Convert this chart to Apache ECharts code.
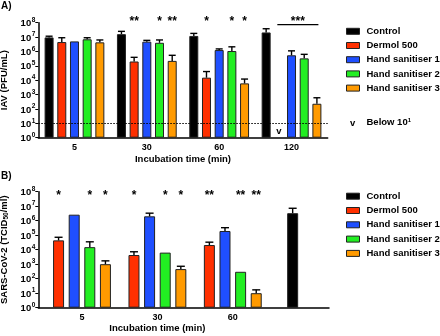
<!DOCTYPE html>
<html><head><meta charset="utf-8">
<script src="https://cdn.jsdelivr.net/npm/echarts@6/dist/echarts.min.js"></script>
<style>html,body{margin:0;padding:0;background:#fff}#c{width:440px;height:336px}</style>
</head><body><div id="c"></div>
<script>
// ---------- shared ----------
const seriesNames = ['Control', 'Dermol 500', 'Hand sanitiser 1', 'Hand sanitiser 2', 'Hand sanitiser 3'];
const seriesColors = ['#000000', '#ff3000', '#1f4fff', '#22ee22', '#ff9a00'];

// ---------- Panel A: IAV (PFU/mL) ----------
const categoriesA = ['5', '30', '60', '120'];
const controlA      = [9.5e6, 1.6e7, 1.2e7, 2.1e7];
const controlAUpper = [1.15e7, 2.5e7, 1.8e7, 3.8e7];
const dermolA       = [4.5e6, 2.0e5, 1.5e4, null];
const dermolAUpper  = [9.0e6, 3.9e5, 4.0e4, null];
const hs1A          = [5.0e6, 4.8e6, 1.25e6, 5.4e5];
const hs1AUpper     = [null, 5.9e6, 1.5e6, 1.1e6];
const hs2A          = [7.0e6, 4.0e6, 1.07e6, 3.3e5];
const hs2AUpper     = [9.0e6, 6.3e6, 2.1e6, 6.3e5];
const hs3A          = [4.3e6, 2.2e5, 6.0e3, 230];
const hs3AUpper     = [6.3e6, 5.4e5, 1.2e4, 600];
const sigControlA = ['', '', '', ''];
const sigDermolA  = ['', '**', '*', ''];
const sigHs1A     = ['', '', '', ''];
const sigHs2A     = ['', '*', '*', ''];
const sigHs3A     = ['', '**', '*', ''];
const bracketA = [3];          // category index of the bracketed group
const bracketTextA = '***';
const belowLimitA = [3];       // category where Dermol 500 is below 10^1
const detectionLimitA = 10;

// ---------- Panel B: SARS-CoV-2 (TCID50/ml) ----------
const categoriesB = ['5', '30', '60'];
const dermolB      = [4.4e4, 4.3e3, 2.1e4];
const dermolBUpper = [7.2e4, 7.2e3, 3.3e4];
const hs1B         = [2.6e6, 2.0e6, 1.95e5];
const hs1BUpper    = [null, 3.3e6, 3.3e5];
const hs2B         = [1.5e4, 6.3e3, 300];
const hs2BUpper    = [3.5e4, null, null];
const hs3B         = [1.0e3, 460, 10];
const hs3BUpper    = [1.7e3, 720, 17];
const controlB      = [3.3e6];
const controlBUpper = [7.2e6];
const sigDermolB = ['*', '*', '**'];
const sigHs1B    = ['', '', ''];
const sigHs2B    = ['*', '*', '**'];
const sigHs3B    = ['*', '*', '**'];

// ---------- styling ----------
const FONT = '"Liberation Sans", Arial, Helvetica, sans-serif';
const BORDER = '#222';
const barWA = 9, gapA = 0.41;
const barWB = 11, gapB = 0.42;
function offsets(n, w, g) {
  const slot = w * (1 + g);
  const out = [];
  for (let i = 0; i < n; i++) out.push((i - (n - 1) / 2) * slot);
  return out;
}
const offA = offsets(5, barWA, gapA);
const offB = offsets(4, barWB, gapB);

function supLabel(v) {
  const e = Math.round(Math.log10(v));
  return '{b|10}{s|' + e + '}';
}
const supRich = {
  b: { fontSize: 9.5, fontWeight: 'bold', color: '#000', fontFamily: FONT, lineHeight: 12, verticalAlign: 'bottom' },
  s: { fontSize: 6.5, fontWeight: 'bold', color: '#000', fontFamily: FONT, lineHeight: 12, verticalAlign: 'top', padding: [0, 0, 0, 0.5] }
};

function logAxis(gridIndex, show, name) {
  return {
    type: 'log', logBase: 10, gridIndex: gridIndex, min: 1, max: 1e8, interval: 1, show: show,
    name: name, nameLocation: 'middle', nameGap: 26,
    nameTextStyle: { fontSize: 9.5, fontWeight: 'bold', color: '#000', fontFamily: FONT,
      rich: { n: { fontSize: 9.5, fontWeight: 'bold', color: '#000', fontFamily: FONT },
              sub: { fontSize: 6.5, fontWeight: 'bold', color: '#000', fontFamily: FONT, verticalAlign: 'bottom', padding: [0, 0, 0, 0] } } },
    axisLine: { show: true, lineStyle: { color: '#000', width: 1.5 } },
    axisTick: { show: true, length: 3, lineStyle: { color: '#000', width: 1 } },
    minorTick: { show: false },
    splitLine: { show: false },
    axisLabel: { margin: 3, formatter: supLabel, rich: supRich }
  };
}
function catAxis(gridIndex, data, opts) {
  return Object.assign({
    type: 'category', gridIndex: gridIndex, data: data,
    axisLine: { show: true, lineStyle: { color: '#000', width: 1.5 } },
    axisTick: { show: false },
    axisLabel: { show: true, fontSize: 9, fontWeight: 'bold', color: '#000', fontFamily: FONT, margin: 5 },
    nameLocation: 'middle',
    nameTextStyle: { fontSize: 9.5, fontWeight: 'bold', color: '#000', fontFamily: FONT }
  }, opts);
}

function bar(name, color, data, xi, yi, w, g, extra) {
  return Object.assign({
    type: 'bar', name: name, data: data, xAxisIndex: xi, yAxisIndex: yi,
    barWidth: w, barGap: (g * 100) + '%',
    itemStyle: { color: color, borderColor: BORDER, borderWidth: 1 },
    emphasis: { disabled: true }, z: 2
  }, extra || {});
}

function errSeries(means, uppers, sigs, off, xi, yi, capW, sigDy) {
  return {
    type: 'custom', xAxisIndex: xi, yAxisIndex: yi, z: 5, silent: true,
    data: means.map((m, i) => [i, m == null ? NaN : m, uppers[i] == null ? NaN : uppers[i]]),
    renderItem: function (params, api) {
      const i = api.value(0);
      const cx = api.coord([i, 1])[0] + off;
      const m = api.value(1), u = api.value(2);
      const ch = [];
      if (isFinite(m) && isFinite(u)) {
        const y1 = api.coord([i, m])[1], y2 = api.coord([i, u])[1];
        ch.push({ type: 'line', shape: { x1: cx, y1: y1, x2: cx, y2: y2 }, style: { stroke: '#000', lineWidth: 1.4 } });
        ch.push({ type: 'line', shape: { x1: cx - capW / 2, y1: y2, x2: cx + capW / 2, y2: y2 }, style: { stroke: '#000', lineWidth: 1.4 } });
      }
      const s = sigs ? sigs[params.dataIndex] : '';
      if (s) {
        const yt = api.coord([i, 1e8])[1];
        ch.push({ type: 'text', style: { text: s, x: cx, y: yt + sigDy, align: 'center', verticalAlign: 'middle',
          fontSize: 12, fontWeight: 'bold', fontFamily: FONT, fill: '#000' } });
      }
      return { type: 'group', children: ch };
    }
  };
}

const legendText = { fontSize: 9.5, fontWeight: 'bold', color: '#000', fontFamily: FONT, lineHeight: 10,
  padding: [0, 0, 0, 2], width: 90, overflow: 'none' };

const chart = echarts.init(document.getElementById('c'), null, { renderer: 'canvas' });

const option = {
  animation: false,
  backgroundColor: '#fff',
  textStyle: { fontFamily: FONT },
  grid: [
    { left: 38.3, top: 22.7, width: 289.4, height: 115, outerBoundsMode: 'none', containLabel: false },
    { left: 38.3, top: 191.7, width: 290.7, height: 116, outerBoundsMode: 'none', containLabel: false },
    { left: 44.3, top: 191.7, width: 226.2, height: 116, outerBoundsMode: 'none', containLabel: false }
  ],
  xAxis: [
    catAxis(0, categoriesA, { name: 'Incubation time (min)', nameGap: 17 }),
    catAxis(1, categoriesB.concat(['Control']), { axisLabel: { show: false } }),
    catAxis(2, categoriesB, { axisLine: { show: false }, name: 'Incubation time (min)', nameGap: 15.5 })
  ],
  yAxis: [
    logAxis(0, true, 'IAV (PFU/mL)'),
    logAxis(1, true, '{n|SARS-CoV-2 (TCID}{sub|50}{n|/ml)}'),
    logAxis(2, false, '')
  ],
  legend: [
    { orient: 'vertical', left: 346, top: 26.3, padding: 0, itemWidth: 13, itemHeight: 6, itemGap: 4.2, icon: 'rect',
      data: seriesNames, selectedMode: false,
      itemStyle: { borderColor: BORDER, borderWidth: 1 }, textStyle: legendText },
    { orient: 'vertical', left: 346, top: 191.2, padding: 0, itemWidth: 13, itemHeight: 6, itemGap: 4.3, icon: 'rect',
      data: seriesNames, selectedMode: false,
      itemStyle: { borderColor: BORDER, borderWidth: 1 }, textStyle: legendText }
  ],
  graphic: [
    { type: 'text', left: 1, top: 1, style: { text: 'A)', fontSize: 10, fontWeight: 'bold', fontFamily: FONT, fill: '#000' } },
    { type: 'text', left: 1, top: 171, style: { text: 'B)', fontSize: 10, fontWeight: 'bold', fontFamily: FONT, fill: '#000' } },
    { type: 'text', left: 350, top: 118, style: { text: 'v', fontSize: 9.5, fontWeight: 'bold', fontFamily: FONT, fill: '#000' } },
    { type: 'text', left: 366.5, top: 117, style: { text: 'Below 10{s|1}', fontSize: 9.5, fontWeight: 'bold', fontFamily: FONT, fill: '#000',
        rich: { s: { fontSize: 6, fontWeight: 'bold', fontFamily: FONT, fill: '#000', verticalAlign: 'top' } } } }
  ],
  series: [
    // Panel A bars
    bar(seriesNames[0], seriesColors[0], controlA, 0, 0, barWA, gapA, {
      markLine: { silent: true, symbol: 'none', label: { show: false }, animation: false,
        lineStyle: { type: [1.5, 1.5], color: '#000', width: 1 }, data: [{ yAxis: detectionLimitA }] }
    }),
    bar(seriesNames[1], seriesColors[1], dermolA, 0, 0, barWA, gapA),
    bar(seriesNames[2], seriesColors[2], hs1A, 0, 0, barWA, gapA),
    bar(seriesNames[3], seriesColors[3], hs2A, 0, 0, barWA, gapA),
    bar(seriesNames[4], seriesColors[4], hs3A, 0, 0, barWA, gapA),
    errSeries(controlA, controlAUpper, sigControlA, offA[0], 0, 0, 7, -1.5),
    errSeries(dermolA, dermolAUpper, sigDermolA, offA[1], 0, 0, 7, -1.5),
    errSeries(hs1A, hs1AUpper, sigHs1A, offA[2], 0, 0, 7, -1.5),
    errSeries(hs2A, hs2AUpper, sigHs2A, offA[3], 0, 0, 7, -1.5),
    errSeries(hs3A, hs3AUpper, sigHs3A, offA[4], 0, 0, 7, -1.5),
    { // bracket + *** over 120 group
      type: 'custom', xAxisIndex: 0, yAxisIndex: 0, z: 5, silent: true,
      data: bracketA.map(c => [c]),
      renderItem: function (params, api) {
        const c = api.value(0);
        const cx = api.coord([c, 1])[0];
        const yt = api.coord([c, 1e8])[1];
        return { type: 'group', children: [
          { type: 'line', shape: { x1: cx + offA[1] - 1.5, y1: yt + 2, x2: cx + offA[4] + 1.5, y2: yt + 2 }, style: { stroke: '#000', lineWidth: 1.2 } },
          { type: 'text', style: { text: bracketTextA, x: cx + (offA[1] + offA[4]) / 2, y: yt - 1.5, align: 'center', verticalAlign: 'middle',
            fontSize: 12, fontWeight: 'bold', fontFamily: FONT, fill: '#000' } }
        ] };
      }
    },
    { // "v" = below 10^1
      type: 'custom', xAxisIndex: 0, yAxisIndex: 0, z: 5, silent: true,
      data: belowLimitA.map(c => [c]),
      renderItem: function (params, api) {
        const c = api.value(0);
        const p = api.coord([c, 1]);
        return { type: 'text', style: { text: 'v', x: p[0] + offA[1], y: p[1] - 6, align: 'center', verticalAlign: 'middle',
          fontSize: 9.5, fontWeight: 'bold', fontFamily: FONT, fill: '#000' } };
      }
    },
    // Panel B bars
    bar(seriesNames[0], seriesColors[0], [null, null, null].concat(controlB), 1, 1, barWB, gapB),
    errSeries([null, null, null].concat(controlB), [null, null, null].concat(controlBUpper), null, 0, 1, 1, 8, 3),
    bar(seriesNames[1], seriesColors[1], dermolB, 2, 2, barWB, gapB),
    bar(seriesNames[2], seriesColors[2], hs1B, 2, 2, barWB, gapB),
    bar(seriesNames[3], seriesColors[3], hs2B, 2, 2, barWB, gapB),
    bar(seriesNames[4], seriesColors[4], hs3B, 2, 2, barWB, gapB),
    errSeries(dermolB, dermolBUpper, sigDermolB, offB[0], 2, 2, 8, 3.5),
    errSeries(hs1B, hs1BUpper, sigHs1B, offB[1], 2, 2, 8, 3.5),
    errSeries(hs2B, hs2BUpper, sigHs2B, offB[2], 2, 2, 8, 3.5),
    errSeries(hs3B, hs3BUpper, sigHs3B, offB[3], 2, 2, 8, 3.5)
  ]
};
chart.setOption(option);
</script>
</body></html>
